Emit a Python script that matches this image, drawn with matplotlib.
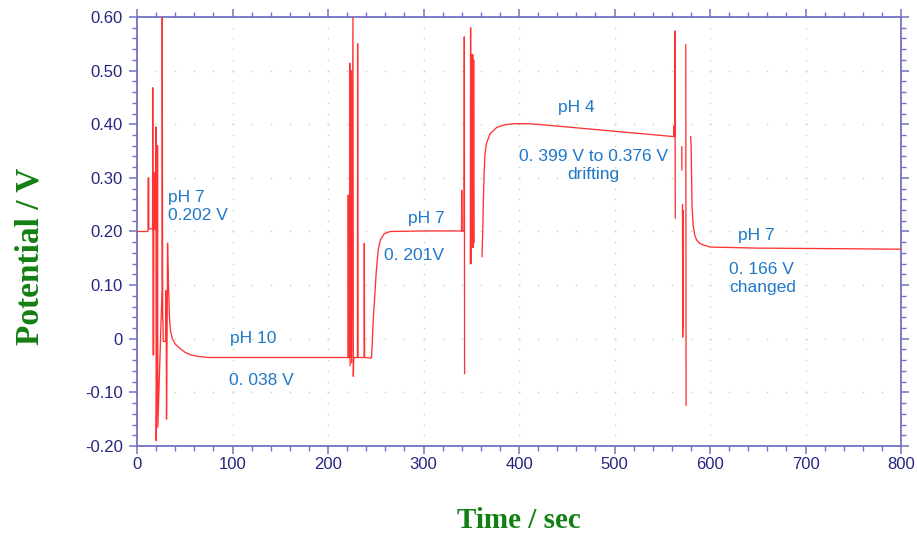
import numpy as np
import matplotlib.pyplot as plt
from matplotlib.ticker import MultipleLocator

# potential trace, segment by segment
# (nan = pen lifted between spikes)
t_ph7a = [0, 11.5, 11.6, 12.3, 12.4, 16.3, 16.5, 16.8, 17.4, 17.6, 18.0, 19.6,
          19.8, 20.1, 21.3, 21.5, 21.8, 26.2, 26.4, 26.9, 27.2, 27.5, 30.3,
          30.5, 30.9, 31.8, 32.0, 32.3, 33.0, 34.0, 35.0, 37.0, 40.0, 45.0,
          50.0, 56.0, 64.0, 75.0]
v_ph7a = [0.200, 0.200, 0.300, 0.300, 0.205, 0.205, 0.468, -0.030, -0.030,
          0.310, 0.205, 0.205, 0.395, -0.190, 0.090, 0.360, -0.165, 0.090,
          0.600, 0.035, 0.035, -0.005, -0.005, 0.090, -0.150, 0.085, 0.178,
          0.147, 0.100, 0.040, 0.015, 0.000, -0.010, -0.018, -0.025, -0.030,
          -0.033, -0.035]

t_ph10 = [150.0, 221.0, 221.2, 221.5, 222.6, 222.8, 223.1, 224.4, 224.8,
          226.1, 226.5, 227.0, 230.8, 231.0, 231.4, 237.8, 238.0, 238.3, 245.5]
v_ph10 = [-0.035, -0.035, 0.268, -0.035, -0.035, 0.514, -0.050, 0.500, -0.045,
          0.600, -0.070, -0.035, -0.035, 0.550, -0.035, -0.035, 0.178, -0.035,
          -0.036]

t_ph7b = [246.5, 247.5, 249.0, 250.5, 252.5, 255.0, 259.0, 265.0, 300.0,
          339.8, 340.0, 340.3, 342.5, 342.7, 343.0]
v_ph7b = [0.000, 0.040, 0.080, 0.125, 0.165, 0.185, 0.196, 0.200, 0.201,
          0.201, 0.277, 0.201, 0.201, 0.563, -0.065]

t_spk1 = [349.0, 349.3, 349.6, 350.5, 351.0, 351.5, 352.0, 352.5, 353.0]
v_spk1 = [0.140, 0.580, 0.140, 0.530, 0.170, 0.530, 0.170, 0.520, 0.180]

t_ph4 = [361.2, 362.0, 362.7, 363.5, 364.4, 366.0, 369.6, 376.6, 385.0,
         395.0, 410.0, 425.0, 562.0, 562.1, 562.4, 563.2, 563.3, 563.6]
v_ph4 = [0.153, 0.200, 0.260, 0.310, 0.345, 0.365, 0.382, 0.394, 0.399,
         0.401, 0.401, 0.399, 0.377, 0.397, 0.377, 0.377, 0.574, 0.225]

t_spk2 = [570.4, 570.5]
v_spk2 = [0.358, 0.315]
t_spk3 = [571.2, 571.4, 571.6, 571.8]
v_spk3 = [0.250, 0.003, 0.240, 0.020]
t_spk4 = [574.6, 574.9]
v_spk4 = [0.548, -0.124]

t_ph7c = [579.7, 580.2, 580.7, 581.2, 582.4, 584.0, 586.0, 589.0, 593.0,
          600.0, 650.0, 730.0, 800.0]
v_ph7c = [0.377, 0.360, 0.300, 0.246, 0.210, 0.193, 0.184, 0.178, 0.175,
          0.171, 0.169, 0.168, 0.167]

t_all = (t_ph7a + t_ph10 + t_ph7b + [np.nan] + t_spk1 + [np.nan] + t_ph4
         + [np.nan] + t_spk2 + [np.nan] + t_spk3 + [np.nan] + t_spk4
         + [np.nan] + t_ph7c)
v_all = (v_ph7a + v_ph10 + v_ph7b + [np.nan] + v_spk1 + [np.nan] + v_ph4
         + [np.nan] + v_spk2 + [np.nan] + v_spk3 + [np.nan] + v_spk4
         + [np.nan] + v_ph7c)

notes = ["pH 7\n0.202 V", "pH 10", "0. 038 V", "pH 7", "0. 201V", "pH 4",
         "0. 399 V to 0.376 V\ndrifting", "pH 7", "0. 166 V\nchanged"]

AXIS_C = "#7272c2"
TICK_C = "#262680"
LABEL_C = "#138013"
NOTE_C = "#1f78c8"
DOT_C = "#c6ddb0"

fig = plt.figure(figsize=(9.17, 5.35), dpi=100)
ax = fig.add_axes([0.1494, 0.1664, 0.9826 - 0.1494, 0.9682 - 0.1664])

ax.set_xlim(0, 800)
ax.set_ylim(-0.2, 0.6)

# dotted grid: dots at minor spacing along major lines
for gx in np.arange(0, 801, 100):
    gy = np.arange(-0.2, 0.601, 0.02)
    ax.plot(np.full_like(gy, gx), gy, ls="none", marker="s", ms=1.1,
            color=DOT_C, mec="none", zorder=1)
for gy in np.arange(-0.2, 0.601, 0.1):
    gx = np.arange(0, 801, 20)
    ax.plot(gx, np.full_like(gx, gy, dtype=float), ls="none", marker="s",
            ms=1.1, color=DOT_C, mec="none", zorder=1)

ax.plot(t_all, v_all, color="#ff3333", lw=0.95, zorder=3, clip_on=True)

ax.xaxis.set_major_locator(MultipleLocator(100))
ax.xaxis.set_minor_locator(MultipleLocator(20))
ax.yaxis.set_major_locator(MultipleLocator(0.1))
ax.yaxis.set_minor_locator(MultipleLocator(0.02))
ax.set_yticks(np.arange(-0.2, 0.601, 0.1))
ax.set_yticklabels(["-0.20", "-0.10", "0", "0.10", "0.20", "0.30", "0.40",
                    "0.50", "0.60"])

for s in ax.spines.values():
    s.set_edgecolor(AXIS_C)
    s.set_linewidth(1.3)
ax.tick_params(which="both", direction="out", color=AXIS_C, top=True,
               right=True, labelcolor=TICK_C)
ax.tick_params(which="major", length=6, width=1.1)
ax.tick_params(which="minor", length=3.5, width=1.0)
ax.tick_params(axis="y", pad=4)
ax.tick_params(axis="x", pad=2)
for lab in ax.get_xticklabels() + ax.get_yticklabels():
    lab.set_family("Liberation Sans")
    lab.set_fontsize(12)

ax.set_xlabel("Time / sec", family="Liberation Serif", weight="bold",
              fontsize=21, color=LABEL_C, labelpad=25)
ax.set_ylabel("Potential / V", family="Liberation Serif", weight="bold",
              fontsize=24, color=LABEL_C)
ax.yaxis.set_label_coords(-0.12, 0.443)

note_kw = dict(color=NOTE_C, fontsize=12.5, family="Liberation Sans",
               linespacing=1.25)
ax.text(32.5, 0.247, notes[0], ha="left", va="center", **note_kw)
ax.text(122, 0.001, notes[1], ha="center", va="center", **note_kw)
ax.text(96, -0.077, notes[2], ha="left", va="center", **note_kw)
ax.text(284, 0.225, notes[3], ha="left", va="center", **note_kw)
ax.text(258.5, 0.156, notes[4], ha="left", va="center", **note_kw)
ax.text(460, 0.432, notes[5], ha="center", va="center", **note_kw)
ax.text(478, 0.323, notes[6], ha="center", va="center", **note_kw)
ax.text(648, 0.193, notes[7], ha="center", va="center", **note_kw)
ax.text(620, 0.113, notes[8], ha="left", va="center", **note_kw)

fig.savefig("out.png", dpi=100)
